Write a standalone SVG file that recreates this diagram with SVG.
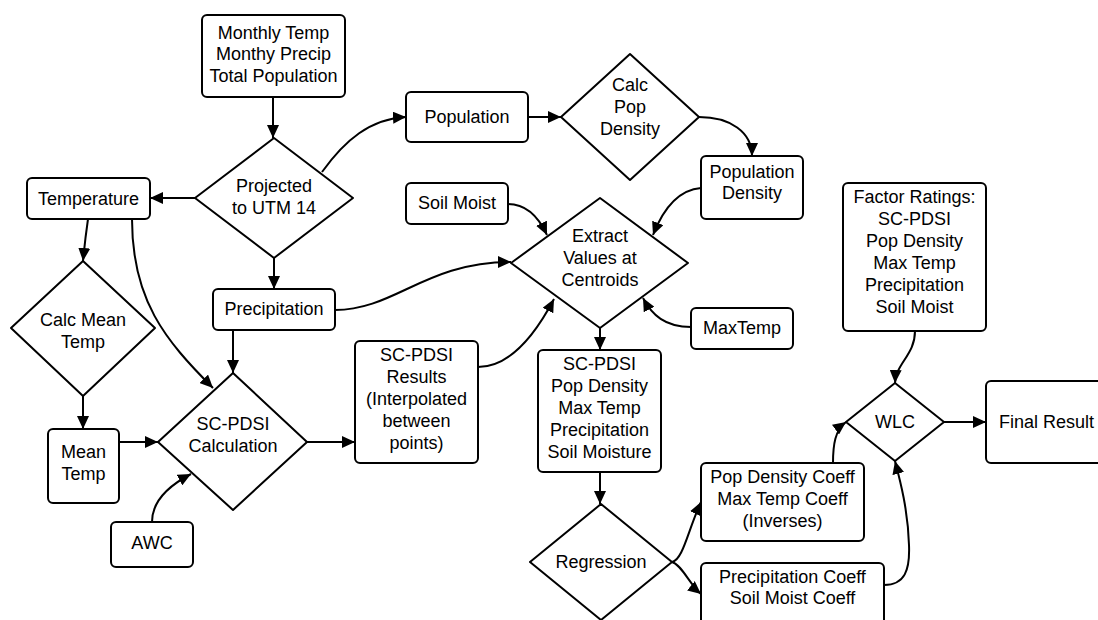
<svg xmlns="http://www.w3.org/2000/svg" width="1098" height="620" viewBox="0 0 1098 620">
<style>
.n{fill:#fff;stroke:#000;stroke-width:2;stroke-linejoin:round}
.t{font-family:"Liberation Sans",Arial,sans-serif;font-size:18px;fill:#000;text-anchor:middle;dominant-baseline:central}
.c{fill:none;stroke:#000;stroke-width:2;marker-end:url(#ah)}
</style>
<defs>
<marker id="ah" markerUnits="userSpaceOnUse" markerWidth="14" markerHeight="12" refX="13" refY="6" orient="auto">
<path d="M0,0 L13,6 L0,12 z" fill="#000"/>
</marker>
</defs>
<rect width="1098" height="620" fill="#fff"/>
<g id="inputs"><rect class="n" x="202" y="15" width="143" height="82" rx="5"/><text class="t" x="273.5" y="33">Monthly Temp</text><text class="t" x="273.5" y="54">Monthy Precip</text><text class="t" x="273.5" y="76">Total Population</text></g>
<g id="projected"><path class="n" d="M274,138 L353,198 L274,258 L195,198 Z"/><text class="t" x="274" y="186">Projected</text><text class="t" x="274" y="208">to UTM 14</text></g>
<g id="temperature"><rect class="n" x="27" y="178" width="123" height="41" rx="5"/><text class="t" x="88.5" y="198.5">Temperature</text></g>
<g id="population"><rect class="n" x="406" y="92" width="122" height="50" rx="5"/><text class="t" x="467" y="117">Population</text></g>
<g id="calcpop"><path class="n" d="M630,54 L699,117 L630,180 L561,117 Z"/><text class="t" x="630" y="85">Calc</text><text class="t" x="630" y="107">Pop</text><text class="t" x="630" y="129">Density</text></g>
<g id="popdensity"><rect class="n" x="701" y="156" width="102" height="63" rx="5"/><text class="t" x="752" y="172">Population</text><text class="t" x="752" y="193">Density</text></g>
<g id="soilmoist"><rect class="n" x="406" y="183" width="102" height="41" rx="5"/><text class="t" x="457" y="202.5">Soil Moist</text></g>
<g id="extract"><path class="n" d="M600,198 L688,263 L600,328 L511,263 Z"/><text class="t" x="600" y="236">Extract</text><text class="t" x="600" y="258">Values at</text><text class="t" x="600" y="280">Centroids</text></g>
<g id="precipitation"><rect class="n" x="213" y="289" width="122" height="41" rx="5"/><text class="t" x="274" y="309">Precipitation</text></g>
<g id="calcmean"><path class="n" d="M83,261 L155,328 L83,396 L11,328 Z"/><text class="t" x="83" y="320">Calc Mean</text><text class="t" x="83" y="342">Temp</text></g>
<g id="meantemp"><rect class="n" x="48" y="429" width="71" height="74" rx="5"/><text class="t" x="83.5" y="452">Mean</text><text class="t" x="83.5" y="474">Temp</text></g>
<g id="scpdsi"><path class="n" d="M233,373 L307,442 L233,510 L158,442 Z"/><text class="t" x="233" y="424">SC-PDSI</text><text class="t" x="233" y="446">Calculation</text></g>
<g id="awc"><rect class="n" x="111" y="522" width="82" height="45" rx="5"/><text class="t" x="152" y="543">AWC</text></g>
<g id="results"><rect class="n" x="355" y="341" width="123" height="122" rx="5"/><text class="t" x="416.5" y="355">SC-PDSI</text><text class="t" x="416.5" y="377">Results</text><text class="t" x="416.5" y="399">(Interpolated</text><text class="t" x="416.5" y="421">between</text><text class="t" x="416.5" y="443">points)</text></g>
<g id="values"><rect class="n" x="538" y="350" width="123" height="122" rx="5"/><text class="t" x="599.5" y="364">SC-PDSI</text><text class="t" x="599.5" y="386">Pop Density</text><text class="t" x="599.5" y="408">Max Temp</text><text class="t" x="599.5" y="430">Precipitation</text><text class="t" x="599.5" y="452">Soil Moisture</text></g>
<g id="maxtemp"><rect class="n" x="691" y="308" width="102" height="41" rx="5"/><text class="t" x="742" y="327.5">MaxTemp</text></g>
<g id="regression"><path class="n" d="M601,504 L672,562 L601,620 L530,562 Z"/><text class="t" x="601" y="562">Regression</text></g>
<g id="popcoeff"><rect class="n" x="701" y="463" width="163" height="78" rx="5"/><text class="t" x="782.5" y="477">Pop Density Coeff</text><text class="t" x="782.5" y="499">Max Temp Coeff</text><text class="t" x="782.5" y="521">(Inverses)</text></g>
<g id="precipcoeff"><rect class="n" x="701" y="563" width="183" height="70" rx="5"/><text class="t" x="792.5" y="577">Precipitation Coeff</text><text class="t" x="792.5" y="598">Soil Moist Coeff</text></g>
<g id="factor"><rect class="n" x="843" y="183" width="143" height="148" rx="5"/><text class="t" x="914.5" y="197">Factor Ratings:</text><text class="t" x="914.5" y="219">SC-PDSI</text><text class="t" x="914.5" y="241">Pop Density</text><text class="t" x="914.5" y="263">Max Temp</text><text class="t" x="914.5" y="285">Precipitation</text><text class="t" x="914.5" y="307">Soil Moist</text></g>
<g id="wlc"><path class="n" d="M895,383 L944,422 L895,461 L846,422 Z"/><text class="t" x="895" y="422">WLC</text></g>
<g id="final"><rect class="n" x="986" y="381" width="130" height="82" rx="5"/><text class="t" x="999" y="422" style="text-anchor:start">Final Result</text></g>
<g id="connectors">
<path class="c" d="M273,97 L273,138"/>
<path class="c" d="M195,198 L150,198"/>
<path class="c" d="M322,172 C345,140 370,119 406,117"/>
<path class="c" d="M274,258 L274,289"/>
<path class="c" d="M528,117 L561,117"/>
<path class="c" d="M699,117 C730,117 752,132 752,156"/>
<path class="c" d="M701,188 C676,190 662,212 653,235"/>
<path class="c" d="M508,204 C528,204 540,220 547,235"/>
<path class="c" d="M335,310 C395,310 425,262 511,262"/>
<path class="c" d="M88,219 Q85,240 83,261"/>
<path class="c" d="M132,219 C132,300 165,340 213,388"/>
<path class="c" d="M83,396 L83,429"/>
<path class="c" d="M119,442 L158,442"/>
<path class="c" d="M233,330 L233,373"/>
<path class="c" d="M152,522 C152,500 170,485 191,474"/>
<path class="c" d="M307,442 L355,442"/>
<path class="c" d="M478,367 C510,367 535,335 554,299"/>
<path class="c" d="M600,328 L600,350"/>
<path class="c" d="M691,327 C665,327 652,315 643,298"/>
<path class="c" d="M600,472 L600,504"/>
<path class="c" d="M672,562 C683,560 688,530 701,502"/>
<path class="c" d="M672,562 C682,565 690,585 701,594"/>
<path class="c" d="M833,463 C833,445 835,430 846,422"/>
<path class="c" d="M884,585 C905,585 910,570 909,545 C908,510 900,480 895,461"/>
<path class="c" d="M915,331 C915,355 896,363 895,383"/>
<path class="c" d="M944,422 L986,422"/>
</g>
</svg>
